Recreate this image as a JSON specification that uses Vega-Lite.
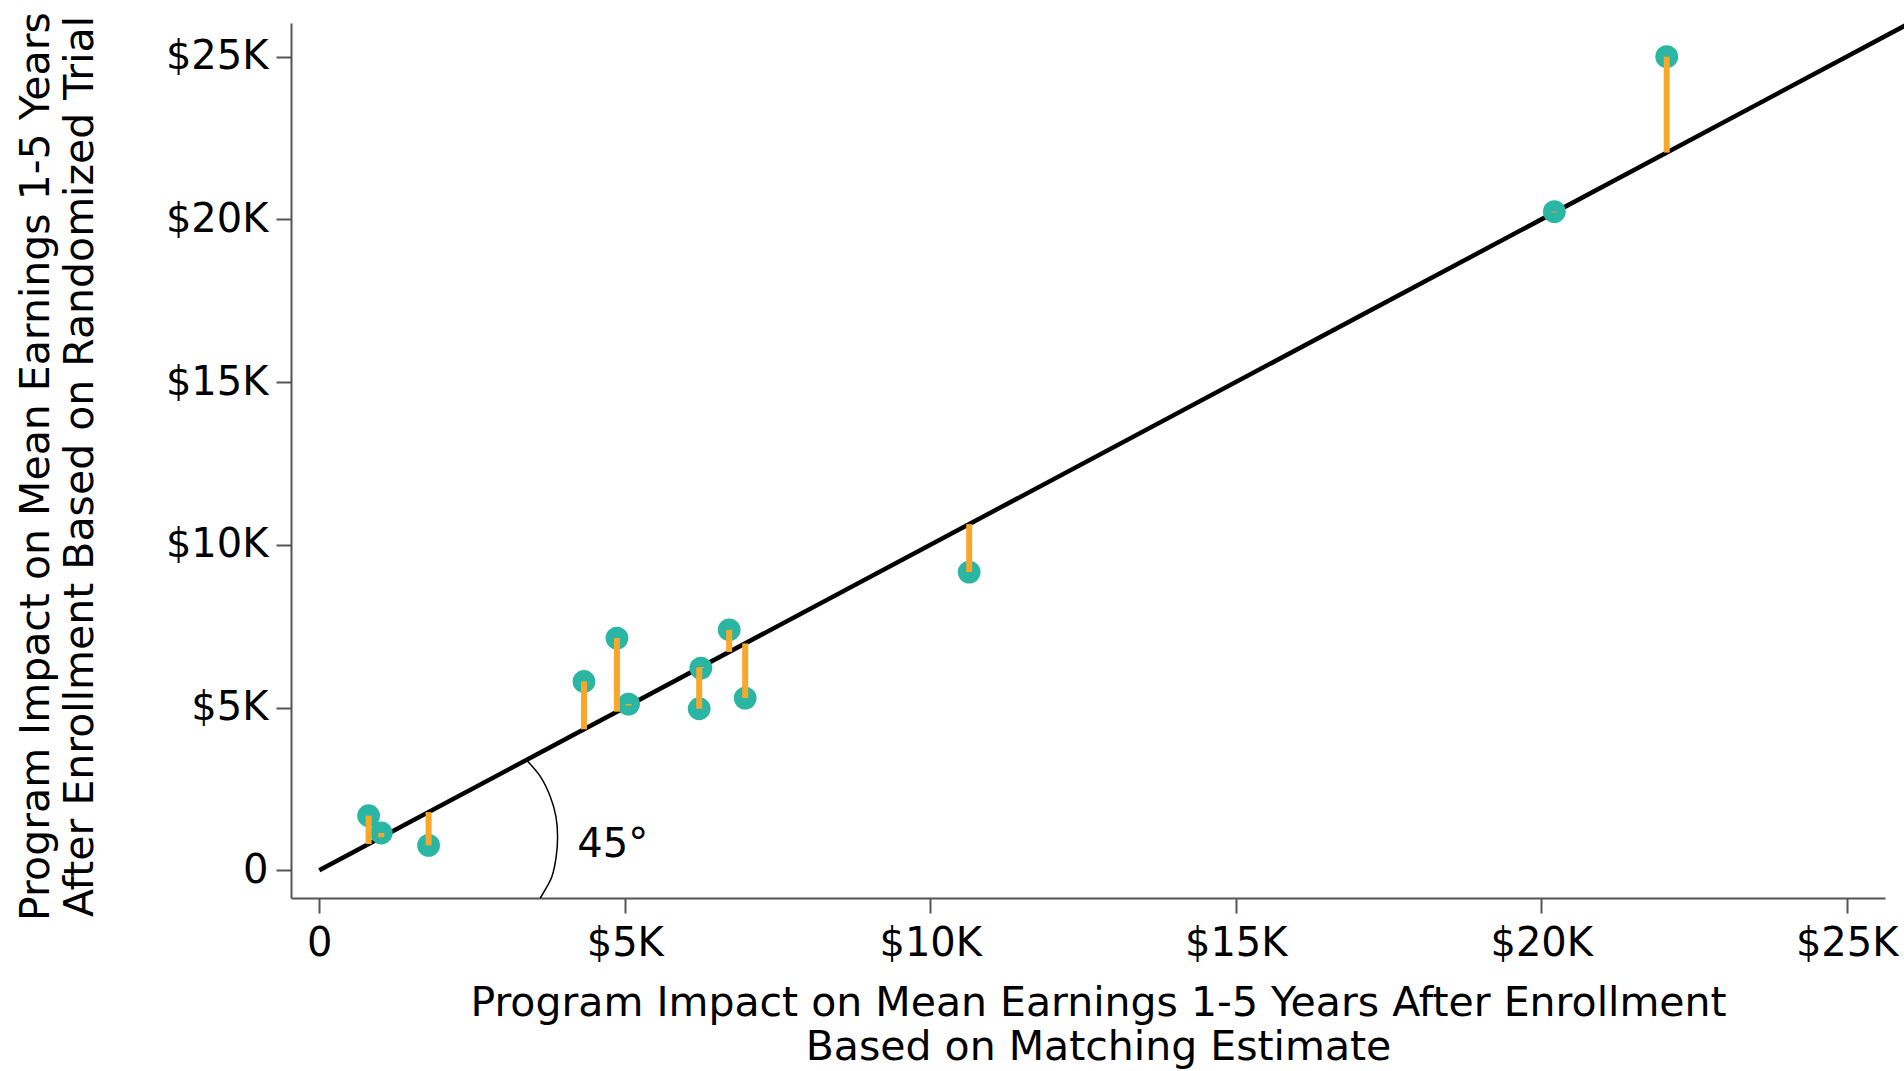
{
  "$schema": "https://vega.github.io/schema/vega-lite/v6.json",
  "width": 1594,
  "height": 875,
  "autosize": {"type": "none"},
  "padding": {"left": 291, "top": 23, "right": 19, "bottom": 173},
  "background": "white",
  "config": {
    "view": {"stroke": null},
    "font": "DejaVu Sans",
    "axis": {
      "grid": false,
      "domainColor": "#555555",
      "domainWidth": 2,
      "tickColor": "#555555",
      "tickWidth": 2,
      "tickSize": 15,
      "labelFont": "DejaVu Sans",
      "labelFontSize": 40,
      "labelColor": "#000000",
      "titleFont": "DejaVu Sans",
      "titleFontSize": 41,
      "titleFontWeight": "normal",
      "titleColor": "#000000",
      "titleLineHeight": 44,
      "labelFlush": false,
      "labelOverlap": false
    }
  },
  "datasets": {
    "studies": [
      {"x": 807, "y": 1677},
      {"x": 1015, "y": 1146},
      {"x": 1789, "y": 765},
      {"x": 4332, "y": 5802},
      {"x": 4872, "y": 7135},
      {"x": 5062, "y": 5108},
      {"x": 6246, "y": 6214},
      {"x": 6218, "y": 4964},
      {"x": 6709, "y": 7390},
      {"x": 6971, "y": 5292},
      {"x": 10637, "y": 9163},
      {"x": 20215, "y": 20239},
      {"x": 22054, "y": 25000}
    ],
    "diagonal": [
      {"x": 0, "y": 0},
      {"x": 26000, "y": 26000}
    ],
    "arc": [
      {"i": 1, "x": 3387, "y": 3397},
      {"i": 2, "x": 3617, "y": 2884},
      {"i": 3, "x": 3780, "y": 2270},
      {"i": 4, "x": 3873, "y": 1656},
      {"i": 5, "x": 3900, "y": 1041},
      {"i": 6, "x": 3878, "y": 427},
      {"i": 7, "x": 3808, "y": -187},
      {"i": 8, "x": 3698, "y": -596},
      {"i": 9, "x": 3617, "y": -851}
    ],
    "label": [
      {"x": 4222, "y": 418, "text": "45°"}
    ]
  },
  "encoding": {
    "x": {
      "field": "x",
      "type": "quantitative",
      "scale": {"domain": [-463, 25627], "nice": false, "zero": false},
      "axis": {
        "values": [0, 5000, 10000, 15000, 20000, 25000],
        "labelExpr": "datum.value == 0 ? '0' : '$' + (datum.value / 1000) + 'K'",
        "labelPadding": 10,
        "title": ["Program Impact on Mean Earnings 1-5 Years After Enrollment", "Based on Matching Estimate"],
        "titleX": 807,
        "titleY": 117,
        "titleAlign": "center",
        "titleBaseline": "alphabetic",
        "titleAnchor": null
      }
    },
    "y": {
      "field": "y",
      "type": "quantitative",
      "scale": {"domain": [-851, 26035], "nice": false, "zero": false},
      "axis": {
        "values": [0, 5000, 10000, 15000, 20000, 25000],
        "labelExpr": "datum.value == 0 ? '0' : '$' + (datum.value / 1000) + 'K'",
        "labelPadding": 8,
        "title": ["Program Impact on Mean Earnings 1-5 Years", "After Enrollment Based on Randomized Trial"],
        "titleAngle": -90,
        "titleX": -243,
        "titleY": 443,
        "titleAlign": "center",
        "titleBaseline": "alphabetic",
        "titleAnchor": null
      }
    }
  },
  "layer": [
    {
      "data": {"name": "diagonal"},
      "mark": {"type": "line", "color": "#000000", "strokeWidth": 4.5, "clip": false}
    },
    {
      "data": {"name": "arc"},
      "mark": {"type": "line", "color": "#000000", "strokeWidth": 1.5, "interpolate": "catmull-rom"},
      "encoding": {"order": {"field": "i", "type": "quantitative"}}
    },
    {
      "data": {"name": "studies"},
      "mark": {"type": "circle", "color": "#2BB6A3", "opacity": 1, "size": 520}
    },
    {
      "data": {"name": "studies"},
      "mark": {"type": "rule", "color": "#F8A72A", "strokeWidth": 6, "strokeCap": "butt"},
      "encoding": {"y2": {"field": "x"}}
    },
    {
      "data": {"name": "label"},
      "mark": {"type": "text", "align": "left", "baseline": "alphabetic", "fontSize": 40, "font": "DejaVu Sans", "color": "#000000"},
      "encoding": {"text": {"field": "text", "type": "nominal"}}
    }
  ]
}
